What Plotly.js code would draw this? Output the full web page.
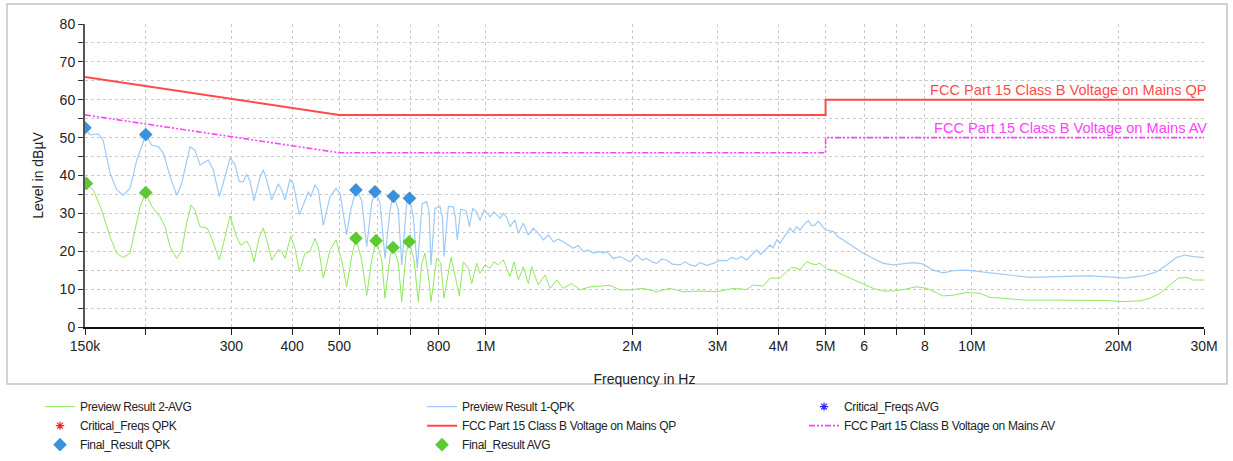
<!DOCTYPE html>
<html>
<head>
<meta charset="utf-8">
<script src="https://cdn.plot.ly/plotly-3.0.1.min.js"></script>
<style>
  html, body { margin: 0; padding: 0; background: #ffffff; }
  #chart { width: 1233px; height: 461px; }
  #chart .legendtext { letter-spacing: -0.35px; }
</style>
</head>
<body>
<div id="chart"></div>
<script>
// ---------- Data (frequency in kHz, level in dBµV) ----------
const qpkFreq = [150,153.6,159.8,163.4,168.9,174.3,179.8,185.6,191.6,200,205.8,212.3,217.4,224.4,231.6,237.1,246.6,252.5,258.6,268.9,275.4,283.4,291.1,298.1,305.2,311.5,317.4,322.6,327.7,333.9,343.6,348.9,354.6,363.1,374.7,380.7,386.7,395.9,402.1,413.8,421.7,431.8,436.7,445.6,452.7,463.6,478.5,492.3,501.7,517.8,526.0,541.2,556.0,569.3,583.0,592.2,606.4,620.9,635.8,645.8,661.2,672.0,688.1,696.6,709.9,723.4,740,756.3,765,772.0,786.7,805.6,815,821.0,838.0,857.9,866,874.5,888.5,911.3,918,925.7,940.5,958.4,973.4,992.2,1020.7,1040.2,1070.3,1087.2,1105,1122.0,1148.9,1167.1,1195.1,1223.8,1252.9,1282.9,1313.7,1345.2,1377.5,1410,1444.1,1480,1514.3,1550,1587.8,1625,1664.6,1718.4,1745.5,1773.8,1829.9,1888.7,1918.6,1980.5,2044.4,2100,2143.3,2200,2247.3,2300,2356.0,2420,2509.5,2570,2631.4,2700,2758.8,2850,2937.5,3030,3130.9,3200,3282.9,3360,3441.9,3520,3608.9,3680,3723.6,3843.8,3900,3967,4030,4093,4160,4225,4290,4361,4430,4520,4607,4680,4756,4820,4870,4950,5027,5186,5300,5438,5702,5977,6267,6571,6889,7224,7574,7941,8327,8730,9153,9752,10387,11240,11973,13162,14938,17479,19846,20477,22505,23986,25143,26363,27416,28516,30000];
const qpkLevel = [52.5,50.7,51.0,49.4,40.7,36.2,34.8,36.6,44.0,50.7,48.0,47.6,45.9,39.7,34.8,37.9,47.6,46.7,42.8,44.1,41.5,34.4,39.7,44.7,42.8,38.4,38.4,40.3,38.4,33.3,39.7,41.5,38.8,33.5,37.8,36.2,33.5,39.0,37.9,29.6,32.2,35.7,34.4,37.5,36.2,26.9,34.4,36.6,35.3,24.3,30.0,36.4,33.5,21.2,32.7,36.0,32.7,18.1,30.9,35.0,30.9,16.4,32.7,34.4,29.1,15.5,32.5,33.1,30.5,16.4,31.3,31.8,29.0,18.6,31.8,31.8,29.0,23.0,31.1,30.7,29.0,26.5,31.3,30.4,28.1,30.9,29.1,30.4,28.7,30.0,28.9,26.5,28.3,24.7,27.4,24.3,26.1,24.7,23.0,24.3,22.5,23.2,22.5,21.6,20.8,21.5,19.9,20.3,19.5,19.9,19.5,19.9,18.1,18.6,18.1,17.2,19.0,17.6,18.1,17.2,16.8,17.9,17.7,16.6,16.4,17.2,16.4,16.1,17.0,16.3,16.8,17.6,17.5,18.4,17.9,18.6,17.7,18.9,20.3,19.2,19.9,21.6,20.9,23.0,22.1,23.4,24.8,26.1,25.0,26.5,25.6,27.1,28.1,26.8,26.9,27.9,27.4,26.2,25.6,25.2,23.9,23.0,21.2,19.5,18.1,16.8,16.4,16.8,17.0,16.6,15.0,14.3,14.9,15.0,14.6,14.2,13.7,13.1,13.3,13.5,13.1,12.9,13.5,14.6,16.4,18.4,19.0,18.6,18.3];

const avgFreq = [150,156.1,162.3,168.9,174.3,179.8,185.6,190.1,194.7,200,205.8,214.0,219.1,224.4,231.6,237.1,242.7,247.8,252.5,258.6,267.6,273.3,283.4,291.1,298.1,307.6,313.5,322.6,327.7,333.9,342.4,348.9,354.6,363.1,374.7,380.7,386.7,397.2,405.4,413.8,425.2,435.3,445.6,452.7,463.6,478.5,492.3,505.7,517.8,530.3,541.2,556.0,569.3,583.0,595.1,611.3,620.9,635.8,645.8,661.2,672.0,686.0,696.6,712.2,727.0,738.7,750.5,765,772.0,793.1,808.2,821.0,848.6,869.0,882.8,899.5,921.2,936.2,958.4,973.4,996.8,1020.7,1040.2,1061.7,1087.2,1122.0,1143.6,1167.1,1195.1,1223.8,1243.5,1282.9,1324.4,1356.4,1400.2,1444.1,1502.8,1563.2,1638.8,1718.4,1801.5,1888.7,1980.5,2109.2,2247.3,2393.3,2549.3,2758.8,2985.4,3230.5,3441.9,3551.2,3723.6,3843.8,4030,4159,4259,4430,4572,4756,4870,5027,5186,5438,5702,5977,6267,6571,6889,7224,7696,8070,8461,8730,9153,9752,10387,10890,11598,12750,14938,17479,18923,20477,22156,23230,24355,25538,26566,27640,28516,30000];
const avgLevel = [37.9,36.2,30.9,23.8,19.5,18.3,19.5,25.6,31.8,35.5,31.8,29.1,26.5,21.2,18.1,20.3,27.4,32.2,30.9,26.5,26.1,23.4,17.7,23.8,29.3,23.8,21.6,22.7,21.2,17.2,23.8,26.1,23.0,17.7,20.5,19.9,18.1,24.0,20.8,14.6,19.5,19.9,23.4,21.2,12.9,20.3,23.0,17.7,10.6,18.6,23.4,17.7,8.4,17.7,23.0,17.7,7.6,18.6,21.2,16.8,6.7,19.5,22.5,17.7,6.7,16.8,19.5,12.0,6.7,18.1,17.0,7.6,18.4,12.4,8.2,17.2,15.5,11.5,16.8,14.2,16.4,15.5,17.2,16.4,17.7,13.3,17.2,12.4,15.9,11.5,15.9,11.1,13.7,10.2,12.4,10.2,11.5,9.8,10.6,10.8,11.0,9.8,9.8,10.2,9.3,10.2,9.3,9.5,9.3,10.2,9.9,11.1,10.8,12.9,12.9,14.6,15.8,15.2,17.2,16.4,16.8,15.3,15.0,13.7,12.6,11.4,10.2,9.5,9.5,9.9,10.6,10.2,8.9,8.2,8.4,9.1,8.9,7.8,7.6,7.1,7.1,7.1,7.0,6.7,6.9,7.6,8.9,11.1,12.9,13.1,12.4,12.4];

const limitFreq = [150, 500, 5000, 5000, 30000];
const limitQP = [66, 56, 56, 60, 60];
const limitAV = [56, 46, 46, 50, 50];

const finalQpkFreq = [150, 200, 541, 592, 646, 697];
const finalQpkLevel = [52.6, 50.8, 36.2, 35.7, 34.5, 34.0];
const finalAvgFreq = [151, 200, 541, 595, 645, 696];
const finalAvgLevel = [37.9, 35.5, 23.4, 22.8, 21.0, 22.5];

// no critical frequencies were flagged (legend entries only)
const critQpkFreq = [null];
const critQpkLevel = [null];
const critAvgFreq = [null];
const critAvgLevel = [null];

const xTickVals = [150, 200, 300, 400, 500, 600, 700, 800, 1000, 2000, 3000, 4000, 5000, 6000, 7000, 8000, 10000, 20000, 30000];
const xTickText = ['150k', '', '300', '400', '500', '', '', '800', '1M', '2M', '3M', '4M', '5M', '6', '', '8', '10M', '20M', '30M'];

const limitLabelQP = 'FCC Part 15 Class B Voltage on Mains QP';
const limitLabelAV = 'FCC Part 15 Class B Voltage on Mains AV';

// ---------- Helpers ----------
const toHz = arr => arr.map(v => (v === null ? null : v * 1000));

const traces = [
  { name: 'Preview Result 2-AVG', x: toHz(avgFreq), y: avgLevel, mode: 'lines', type: 'scatter',
    line: { color: '#8fe85c', width: 1 } },
  { name: 'Preview Result 1-QPK', x: toHz(qpkFreq), y: qpkLevel, mode: 'lines', type: 'scatter',
    line: { color: '#9dcaf6', width: 1.2 } },
  { name: 'Critical_Freqs AVG', x: toHz(critAvgFreq), y: critAvgLevel, mode: 'markers', type: 'scatter',
    marker: { symbol: 'asterisk-open', color: '#2a2aff', size: 7, line: { color: '#2a2aff', width: 1.2 } } },
  { name: 'Critical_Freqs QPK', x: toHz(critQpkFreq), y: critQpkLevel, mode: 'markers', type: 'scatter',
    marker: { symbol: 'asterisk-open', color: '#ff2020', size: 7, line: { color: '#ff2020', width: 1.2 } } },
  { name: 'FCC Part 15 Class B Voltage on Mains QP', x: toHz(limitFreq), y: limitQP, mode: 'lines', type: 'scatter',
    line: { color: '#ff4a4a', width: 2 } },
  { name: 'FCC Part 15 Class B Voltage on Mains AV', x: toHz(limitFreq), y: limitAV, mode: 'lines', type: 'scatter',
    line: { color: '#ff40ff', width: 1.6, dash: '6px,2px,2px,2px,2px,2px' } },
  { name: 'Final_Result QPK', x: toHz(finalQpkFreq), y: finalQpkLevel, mode: 'markers', type: 'scatter',
    marker: { symbol: 'diamond', color: '#3b92dc', size: 10.5 } },
  { name: 'Final_Result AVG', x: toHz(finalAvgFreq), y: finalAvgLevel, mode: 'markers', type: 'scatter',
    marker: { symbol: 'diamond', color: '#5fc933', size: 10.5 } }
];

const gridColor = '#c9c9c9';
const layout = {
  width: 1233, height: 461,
  margin: { l: 85, r: 29, t: 24, b: 134, autoexpand: false },
  paper_bgcolor: '#ffffff', plot_bgcolor: '#ffffff',
  font: { family: 'Liberation Sans, Arial, sans-serif', size: 14, color: '#222222' },
  showlegend: true,
  xaxis: {
    type: 'log',
    range: [Math.log10(150000), Math.log10(30000000)],
    tickmode: 'array',
    tickvals: toHz(xTickVals),
    ticktext: xTickText,
    ticks: 'outside', ticklen: 6, tickcolor: '#222', tickwidth: 1,
    showline: true, linecolor: '#111', linewidth: 1.5,
    showgrid: true, gridcolor: gridColor, griddash: 'dot', gridwidth: 1,
    zeroline: false, automargin: false,
    tickfont: { size: 14, color: '#222' },
    title: { text: 'Frequency in Hz', font: { size: 14, color: '#222' }, standoff: 21 }
  },
  yaxis: {
    range: [0, 80],
    tickmode: 'linear', tick0: 0, dtick: 10,
    ticks: 'outside', ticklen: 5, tickcolor: '#333', tickwidth: 1,
    minor: { dtick: 5, ticks: 'outside', ticklen: 5, tickcolor: '#333', showgrid: true, gridcolor: gridColor, griddash: 'dot' },
    showline: true, linecolor: '#555', linewidth: 2,
    showgrid: true, gridcolor: gridColor, griddash: 'dot', gridwidth: 1,
    zeroline: false, automargin: false,
    tickfont: { size: 14, color: '#222' },
    title: { text: 'Level in dBµV', font: { size: 14, color: '#222' }, standoff: 13 }
  },
  legend: {
    orientation: 'h',
    x: -0.0402, xanchor: 'left',
    y: -0.2150, yanchor: 'top',
    entrywidth: 337, entrywidthmode: 'pixels',
    font: { family: 'Liberation Sans, Arial, sans-serif', size: 12, color: '#222' },
    bgcolor: 'rgba(0,0,0,0)',
    traceorder: 'normal'
  },
  shapes: [
    { type: 'rect', xref: 'paper', yref: 'paper', x0: -0.0697, x1: 1.0206, y0: -0.188, y1: 1.066,
      line: { color: '#c4c4c4', width: 1.5 }, fillcolor: 'rgba(0,0,0,0)', layer: 'below' }
  ],
  annotations: [
    { xref: 'paper', yref: 'y', x: 1, y: 60, xanchor: 'right', yanchor: 'bottom', xshift: 5, yshift: 0,
      text: limitLabelQP, showarrow: false, font: { size: 14.6, color: '#ff4a4a' } },
    { xref: 'paper', yref: 'y', x: 1, y: 50, xanchor: 'right', yanchor: 'bottom', xshift: 5, yshift: 0,
      text: limitLabelAV, showarrow: false, font: { size: 14.6, color: '#ff40ff' } }
  ]
};

Plotly.newPlot('chart', traces, layout, { displayModeBar: false, staticPlot: true });
</script>
</body>
</html>
